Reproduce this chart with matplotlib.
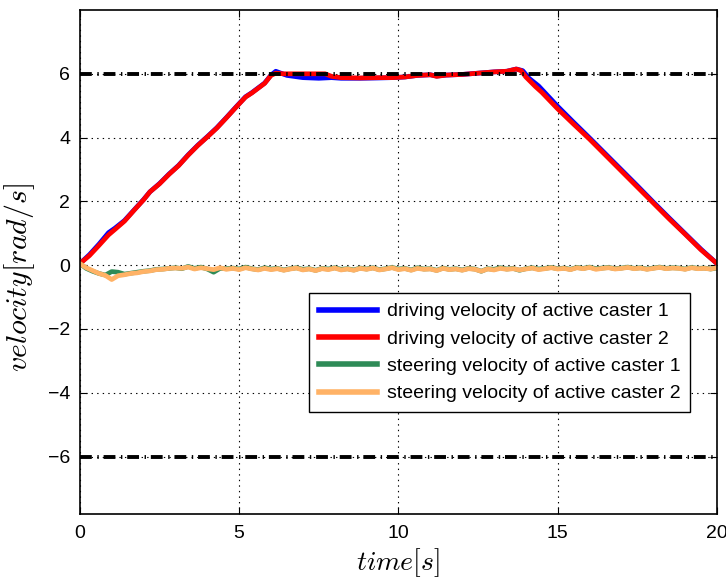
import numpy as np
import matplotlib
matplotlib.use('Agg')
import matplotlib.pyplot as plt

plt.rcParams['font.family'] = ['Liberation Sans', 'DejaVu Sans']
plt.rcParams['mathtext.fontset'] = 'cm'
plt.rcParams['lines.scale_dashes'] = False

# driving velocity, caster 1 (blue)
t_drive1 = [0.0, 0.3, 0.6, 0.9, 1.1, 1.4, 1.7, 2.0, 2.2, 2.5, 2.8, 3.1, 3.4, 3.7, 4.0, 4.3, 4.6, 4.9,
            5.2, 5.4, 5.6, 5.8, 6.0, 6.15, 6.5, 7.0, 7.5, 7.9, 8.2, 8.8, 9.4, 9.8, 10.2, 10.6, 11.0,
            11.2, 11.5, 12.0, 12.5, 13.0, 13.4, 13.7, 13.9, 14.1, 14.4, 15.0, 15.5, 16.0, 16.5, 17.0,
            17.5, 18.0, 18.5, 19.0, 19.5, 20.0]
v_drive1 = [0.05, 0.33, 0.66, 1.02, 1.16, 1.4, 1.73, 2.06, 2.3, 2.56, 2.86, 3.13, 3.46, 3.76, 4.03,
            4.31, 4.63, 4.96, 5.28, 5.41, 5.56, 5.71, 5.96, 6.08, 5.95, 5.88, 5.86, 5.88, 5.86, 5.86,
            5.87, 5.88, 5.9, 5.95, 5.97, 5.93, 5.96, 5.98, 6.02, 6.06, 6.08, 6.15, 6.1, 5.86, 5.62,
            4.98, 4.48, 3.99, 3.49, 2.99, 2.49, 1.98, 1.48, 0.99, 0.5, 0.05]

# driving velocity, caster 2 (red)
t_drive2 = [0.0, 0.3, 0.6, 0.9, 1.1, 1.4, 1.7, 2.0, 2.2, 2.5, 2.8, 3.1, 3.4, 3.7, 4.0, 4.3, 4.6, 4.9,
            5.2, 5.4, 5.6, 5.8, 6.0, 6.15, 6.4, 6.8, 7.2, 7.7, 7.9, 8.2, 8.8, 9.4, 9.8, 10.2, 10.6,
            11.0, 11.2, 11.5, 12.0, 12.5, 13.0, 13.4, 13.7, 13.85, 14.0, 14.3, 14.5, 15.0, 15.5,
            16.0, 16.5, 17.0, 17.5, 18.0, 18.5, 19.0, 19.5, 20.0]
v_drive2 = [0.05, 0.3, 0.62, 0.95, 1.12, 1.38, 1.72, 2.05, 2.3, 2.55, 2.85, 3.12, 3.45, 3.75, 4.02,
            4.3, 4.62, 4.95, 5.27, 5.4, 5.55, 5.7, 5.95, 6.02, 6.0, 6.0, 6.0, 6.0, 5.92, 5.88, 5.87,
            5.88, 5.88, 5.9, 5.95, 5.97, 5.92, 5.96, 5.98, 6.02, 6.06, 6.08, 6.15, 6.1, 5.9, 5.6,
            5.42, 4.9, 4.42, 3.95, 3.45, 2.95, 2.45, 1.95, 1.45, 0.97, 0.48, 0.05]

# steering velocities, sampled every 0.2 s from 0 to 20 s
t_steer = np.round(np.arange(0, 20.01, 0.2), 2)
v_steer1 = [0.05, -0.1, -0.19, -0.26, -0.31, -0.2, -0.22, -0.28, -0.25, -0.22, -0.19, -0.17, -0.13,
            -0.12, -0.1, -0.08, -0.11, -0.04, -0.1, -0.06, -0.12, -0.22, -0.1, -0.11, -0.09, -0.12,
            -0.06, -0.11, -0.14, -0.08, -0.12, -0.1, -0.15, -0.11, -0.08, -0.13, -0.11, -0.16, -0.1,
            -0.12, -0.08, -0.13, -0.11, -0.15, -0.09, -0.12, -0.08, -0.14, -0.11, -0.07, -0.12, -0.1,
            -0.15, -0.08, -0.12, -0.11, -0.16, -0.09, -0.13, -0.11, -0.15, -0.1, -0.12, -0.19, -0.11,
            -0.13, -0.08, -0.12, -0.1, -0.16, -0.11, -0.08, -0.12, -0.1, -0.07, -0.11, -0.09, -0.13,
            -0.07, -0.1, -0.06, -0.11, -0.09, -0.07, -0.11, -0.09, -0.06, -0.1, -0.08, -0.12, -0.09,
            -0.06, -0.1, -0.08, -0.09, -0.12, -0.07, -0.1, -0.09, -0.12, -0.09]
v_steer2 = [0.05, -0.08, -0.17, -0.26, -0.32, -0.45, -0.33, -0.3, -0.26, -0.24, -0.2, -0.18, -0.14,
            -0.13, -0.1, -0.09, -0.1, -0.06, -0.12, -0.08, -0.11, -0.14, -0.08, -0.13, -0.1, -0.14,
            -0.08, -0.12, -0.15, -0.1, -0.14, -0.11, -0.16, -0.12, -0.09, -0.15, -0.12, -0.17, -0.11,
            -0.14, -0.09, -0.15, -0.12, -0.16, -0.1, -0.13, -0.09, -0.15, -0.12, -0.08, -0.14, -0.11,
            -0.16, -0.1, -0.13, -0.12, -0.17, -0.1, -0.14, -0.12, -0.16, -0.11, -0.13, -0.19, -0.12,
            -0.15, -0.1, -0.13, -0.11, -0.15, -0.12, -0.09, -0.14, -0.11, -0.08, -0.12, -0.1, -0.14,
            -0.08, -0.11, -0.07, -0.13, -0.1, -0.08, -0.12, -0.1, -0.07, -0.11, -0.09, -0.13, -0.1,
            -0.07, -0.11, -0.09, -0.1, -0.13, -0.08, -0.11, -0.1, -0.12, -0.08]

limit = 6
labels = ['driving velocity of active caster 1', 'driving velocity of active caster 2',
          'steering velocity of active caster 1', 'steering velocity of active caster 2']
colors = ['#0000ff', '#ff0000', '#2e8b57', '#ffb266']

fig = plt.figure(figsize=(7.26, 5.79), dpi=100)
ax = fig.add_axes([0.110, 0.1123, 0.8776, 0.8704])

ax.plot(t_drive1, v_drive1, color=colors[0], lw=3.4, label=labels[0])
ax.plot(t_drive2, v_drive2, color=colors[1], lw=3.4, label=labels[1])
ax.plot(t_steer, v_steer1, color=colors[2], lw=3.4, label=labels[2])
ax.plot(t_steer, v_steer2, color=colors[3], lw=3.4, label=labels[3])

# limit lines sit on top of the data
dash = (0, (8.5, 4.0, 1.0, 3.5))
ax.axhline(limit, color='black', lw=2.8, linestyle=dash, zorder=3)
ax.axhline(-limit, color='black', lw=2.8, linestyle=dash, zorder=3)

ax.set_xlim(0, 20)
ax.set_ylim(-7.8, 8)
ax.set_xticks([0, 5, 10, 15, 20])
ax.set_yticks([-6, -4, -2, 0, 2, 4, 6])
ax.grid(True, color='black', linestyle=(0, (1, 3)), lw=0.8)
ax.tick_params(direction='in', top=True, right=True, length=5, labelsize=14)
ax.tick_params(axis='x', pad=8)
ax.tick_params(axis='y', pad=7)
for s in ax.spines.values():
    s.set_linewidth(1.2)

ax.set_xlabel(r'$time[s]$', fontsize=20, labelpad=3)
ax.set_ylabel(r'$velocity[rad/s]$', fontsize=21.5)
ax.yaxis.set_label_coords(-0.068, 0.469)

leg = ax.legend(loc='upper right', bbox_to_anchor=(0.958, 0.4385), borderaxespad=0,
                fontsize=14, handlelength=3.0, labelspacing=0.5, fancybox=False,
                edgecolor='black', framealpha=1, borderpad=0.5, handletextpad=0.5)
leg.get_frame().set_linewidth(1.0)
leg.set_zorder(5)
for line in leg.get_lines():
    line.set_linewidth(4)

fig.savefig('out.png', dpi=100)
